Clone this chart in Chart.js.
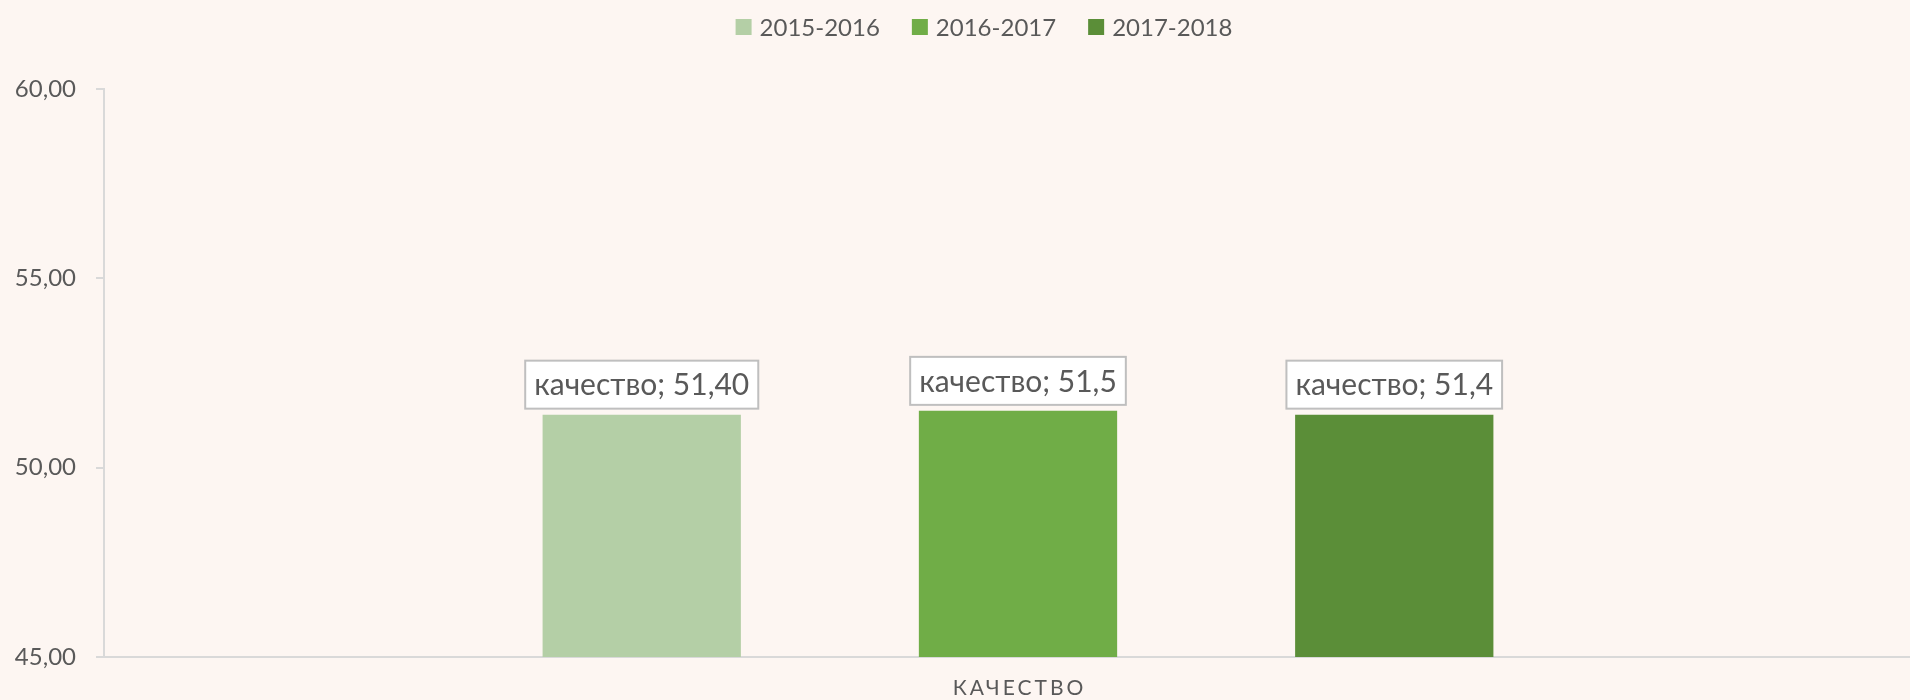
<!DOCTYPE html>
<html>
<head>
<meta charset="utf-8">
<script src="https://cdn.jsdelivr.net/npm/chart.js@4/dist/chart.umd.min.js"></script>
<style>
  html, body { margin: 0; padding: 0; background: #fdf6f2; }
  #wrap { width: 1910px; height: 700px; }
</style>
</head>
<body>
<div id="wrap"><canvas id="c" width="1910" height="700"></canvas></div>
<script>
const categories = ['качество'];
const seriesNames = ['2015-2016', '2016-2017', '2017-2018'];
const values2015 = [51.40];
const values2016 = [51.5];
const values2017 = [51.4];
const labelDecimals = [2, 1, 1];
const yTicks = { min: 45, max: 60, step: 5 };
const colors = ['#b4cfa6', '#70ad47', '#5b8e38'];

const TEXT = '#595959';
const FONT = 'Lato, "Open Sans", sans-serif';

const fmt = (v, d) => v.toFixed(d).replace('.', ',');

const bgPlugin = {
  id: 'bg',
  beforeDraw(chart) {
    const ctx = chart.ctx;
    ctx.save();
    ctx.fillStyle = '#fdf6f2';
    ctx.fillRect(0, 0, chart.width, chart.height);
    ctx.restore();
  }
};

// The plot area of the original extends a little past the right edge of the picture
const extendXPlugin = {
  id: 'extendX',
  afterLayout(chart) {
    const xs = chart.scales.x;
    xs.right += 22;
    xs.width += 22;
    xs.configure();
  }
};

const legendPlugin = {
  id: 'customLegend',
  afterDraw(chart) {
    const ctx = chart.ctx;
    ctx.save();
    ctx.font = '24px ' + FONT;
    ctx.textBaseline = 'middle';
    ctx.textAlign = 'left';
    const box = 16, gapText = 8, gapItem = 32, cy = 27;
    const items = chart.data.datasets.map(ds => ({ label: ds.label, color: ds.backgroundColor, w: ctx.measureText(ds.label).width }));
    const total = items.reduce((s, it) => s + box + gapText + it.w, 0) + gapItem * (items.length - 1);
    let x = 984 - total / 2;
    items.forEach(it => {
      ctx.fillStyle = it.color;
      ctx.fillRect(x, cy - box / 2, box, box);
      ctx.fillStyle = TEXT;
      ctx.fillText(it.label, x + box + gapText, cy + 1);
      x += box + gapText + it.w + gapItem;
    });
    ctx.restore();
  }
};

const dataLabelPlugin = {
  id: 'dataLabelBoxes',
  afterDatasetsDraw(chart) {
    const ctx = chart.ctx;
    ctx.save();
    ctx.font = '30px ' + FONT;
    ctx.textAlign = 'center';
    ctx.textBaseline = 'middle';
    chart.data.datasets.forEach((ds, di) => {
      const meta = chart.getDatasetMeta(di);
      meta.data.forEach((bar, i) => {
        const txt = categories[i] + '; ' + fmt(ds.data[i], labelDecimals[di]);
        const tw = ctx.measureText(txt).width;
        const w = tw + 18, h = 48;
        const x = bar.x - w / 2;
        const y = bar.y - 6 - h;
        ctx.fillStyle = '#ffffff';
        ctx.fillRect(x, y, w, h);
        ctx.strokeStyle = '#bfbfbf';
        ctx.lineWidth = 2;
        ctx.strokeRect(x, y, w, h);
        ctx.fillStyle = TEXT;
        ctx.fillText(txt, bar.x, y + h / 2 + 1);
      });
    });
    ctx.restore();
  }
};

const xLabelPlugin = {
  id: 'xCategoryLabel',
  afterDraw(chart) {
    const ctx = chart.ctx;
    const xs = chart.scales.x;
    ctx.save();
    ctx.font = '21px ' + FONT;
    ctx.fillStyle = TEXT;
    ctx.textAlign = 'center';
    ctx.textBaseline = 'middle';
    try { ctx.letterSpacing = '3px'; } catch (e) {}
    categories.forEach((c, i) => {
      ctx.fillText(c.toUpperCase(), xs.getPixelForValue(i) + 1.5, 688);
    });
    ctx.restore();
  }
};

new Chart(document.getElementById('c'), {
  type: 'bar',
  data: {
    labels: categories,
    datasets: [
      { label: seriesNames[0], data: values2015, backgroundColor: colors[0] },
      { label: seriesNames[1], data: values2016, backgroundColor: colors[1] },
      { label: seriesNames[2], data: values2017, backgroundColor: colors[2] }
    ]
  },
  options: {
    responsive: false,
    animation: false,
    devicePixelRatio: 1,
    categoryPercentage: 0.6175,
    barPercentage: 0.527,
    layout: { padding: { top: 89, right: 0, left: 0, bottom: 0 } },
    plugins: {
      tooltip: { enabled: false },
      legend: { display: false }
    },
    scales: {
      x: {
        grid: { display: false },
        border: { display: true, color: '#d9d9d9', width: 2 },
        ticks: { display: false },
        afterFit(s) { s.height = 43; }
      },
      y: {
        min: yTicks.min, max: yTicks.max,
        ticks: {
          stepSize: yTicks.step,
          color: TEXT,
          padding: 20,
          font: { family: FONT, size: 24 },
          callback: (v) => fmt(v, 2)
        },
        grid: { drawOnChartArea: false, drawTicks: true, tickLength: 8, color: '#d9d9d9', lineWidth: 2 },
        border: { display: true, color: '#d9d9d9', width: 2 },
        afterFit(s) { s.width = 104; }
      }
    }
  },
  plugins: [bgPlugin, extendXPlugin, dataLabelPlugin, xLabelPlugin, legendPlugin]
});
</script>
</body>
</html>
